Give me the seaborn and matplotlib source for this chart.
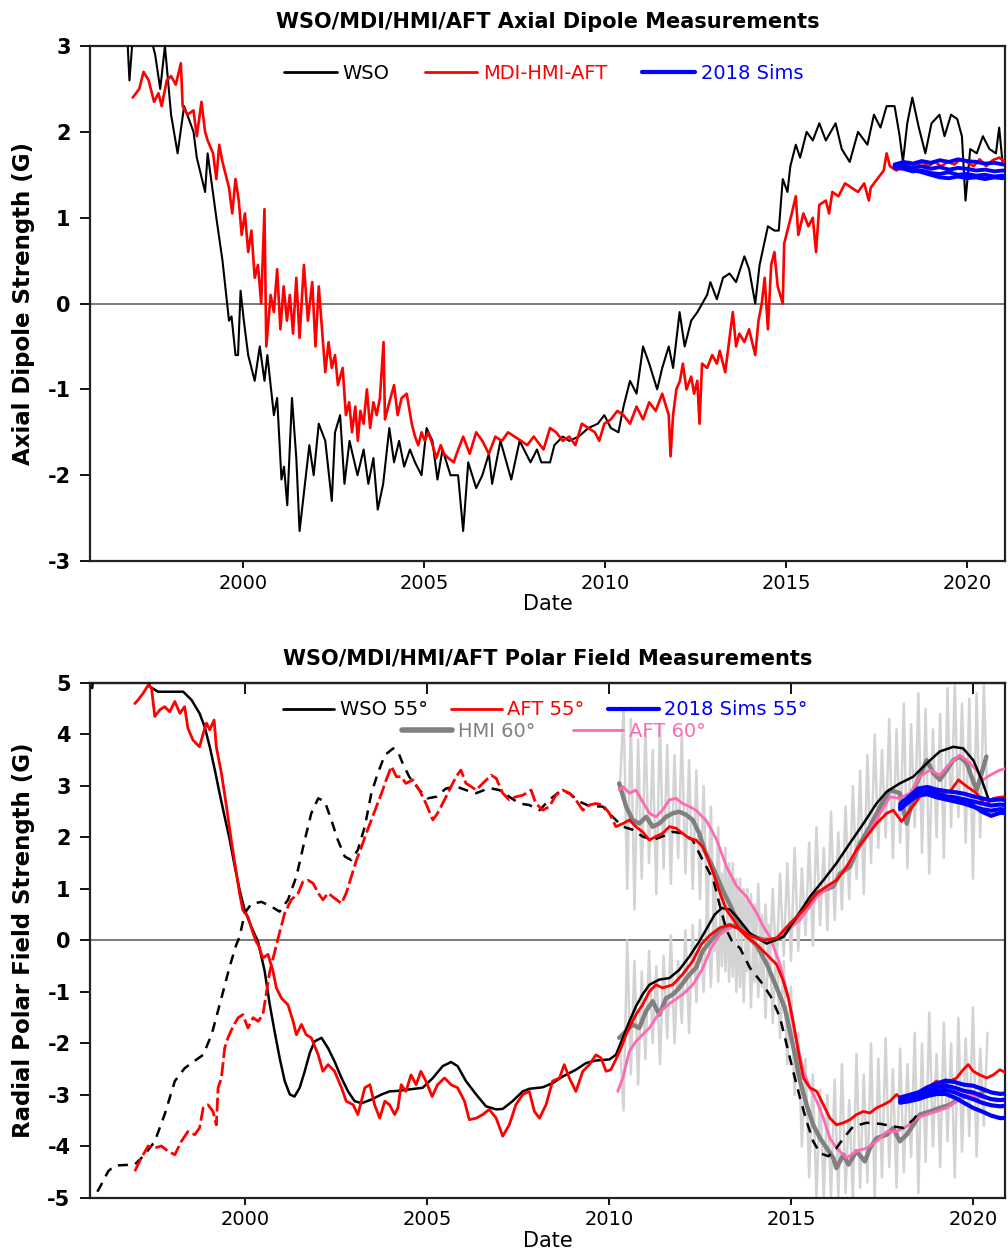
import pandas as pd
import seaborn as sns
import matplotlib.pyplot as plt
from matplotlib.lines import Line2D

# ---------------- top panel: axial dipole, (year, G) ----------------
wso_dipole = [
    (1996.51, 3.3), (1996.80, 3.1), (1996.86, 2.6), (1996.95, 3.1), (1997.39, 3.2), (1997.57, 2.9),
    (1997.71, 2.5), (1997.84, 3.0), (1998.01, 2.2), (1998.19, 1.75), (1998.37, 2.3), (1998.63, 2.0),
    (1998.72, 1.7), (1998.95, 1.3), (1999.02, 1.75), (1999.26, 1.0), (1999.43, 0.5), (1999.56, 0.0),
    (1999.61, -0.2), (1999.68, -0.15), (1999.79, -0.6), (1999.86, -0.6), (1999.93, 0.15), (2000.02, -0.2),
    (2000.14, -0.6), (2000.32, -0.9), (2000.46, -0.5), (2000.59, -0.9), (2000.67, -0.6), (2000.85, -1.3),
    (2000.94, -1.1), (2001.06, -2.05), (2001.13, -1.9), (2001.22, -2.35), (2001.35, -1.1), (2001.47, -1.8),
    (2001.56, -2.65), (2001.83, -1.65), (2001.95, -2.0), (2002.09, -1.4), (2002.27, -1.6), (2002.45, -2.3),
    (2002.54, -1.5), (2002.68, -1.3), (2002.80, -2.1), (2002.94, -1.6), (2003.16, -2.0), (2003.33, -1.7),
    (2003.46, -2.1), (2003.60, -1.8), (2003.72, -2.4), (2003.87, -2.1), (2004.04, -1.45), (2004.17, -1.85),
    (2004.31, -1.6), (2004.45, -1.9), (2004.61, -1.7), (2004.75, -1.85), (2004.93, -2.0), (2005.07, -1.45),
    (2005.23, -1.6), (2005.37, -2.05), (2005.51, -1.7), (2005.73, -2.0), (2005.94, -2.0), (2006.08, -2.65),
    (2006.22, -1.85), (2006.44, -2.15), (2006.61, -2.0), (2006.79, -1.75), (2006.88, -2.1), (2007.11, -1.6),
    (2007.41, -2.05), (2007.64, -1.6), (2007.94, -1.85), (2008.12, -1.7), (2008.24, -1.85), (2008.48, -1.85),
    (2008.60, -1.65), (2008.83, -1.55), (2009.01, -1.6), (2009.27, -1.55), (2009.54, -1.45), (2009.80, -1.4),
    (2009.98, -1.3), (2010.16, -1.45), (2010.37, -1.5), (2010.51, -1.2), (2010.69, -0.9), (2010.87, -1.05),
    (2011.05, -0.5), (2011.22, -0.7), (2011.44, -1.0), (2011.58, -0.75), (2011.76, -0.5), (2011.88, -0.75),
    (2012.06, -0.1), (2012.20, -0.5), (2012.38, -0.2), (2012.55, -0.1), (2012.82, 0.1), (2012.91, 0.25),
    (2013.09, 0.05), (2013.26, 0.3), (2013.44, 0.35), (2013.62, 0.25), (2013.85, 0.55), (2013.98, 0.4),
    (2014.15, 0.0), (2014.27, 0.45), (2014.50, 0.9), (2014.68, 0.85), (2014.80, 0.85), (2014.91, 1.45),
    (2015.04, 1.3), (2015.12, 1.6), (2015.27, 1.85), (2015.39, 1.7), (2015.57, 2.0), (2015.74, 1.9),
    (2015.92, 2.1), (2016.10, 1.9), (2016.37, 2.1), (2016.54, 1.8), (2016.76, 1.65), (2016.99, 2.0),
    (2017.25, 1.85), (2017.43, 2.2), (2017.61, 2.05), (2017.78, 2.3), (2018.00, 2.3), (2018.14, 1.95),
    (2018.23, 1.65), (2018.35, 2.1), (2018.49, 2.4), (2018.67, 2.05), (2018.85, 1.75), (2019.02, 2.1),
    (2019.24, 2.2), (2019.38, 1.95), (2019.56, 2.2), (2019.73, 2.15), (2019.86, 1.95), (2019.96, 1.2),
    (2020.09, 1.8), (2020.27, 1.75), (2020.44, 1.95), (2020.62, 1.8), (2020.80, 1.75), (2020.89, 2.05),
    (2020.98, 1.65),
]

aft_dipole = [
    (1996.95, 2.4), (1997.13, 2.5), (1997.25, 2.7), (1997.39, 2.6), (1997.54, 2.35), (1997.66, 2.45),
    (1997.75, 2.3), (1997.89, 2.6), (1998.01, 2.65), (1998.14, 2.55), (1998.28, 2.8), (1998.33, 2.3),
    (1998.46, 2.2), (1998.63, 2.25), (1998.72, 1.95), (1998.85, 2.35), (1998.95, 2.0), (1999.02, 1.9),
    (1999.17, 1.75), (1999.26, 1.45), (1999.34, 1.85), (1999.43, 1.65), (1999.52, 1.5), (1999.61, 1.35),
    (1999.70, 1.05), (1999.79, 1.45), (1999.88, 1.2), (1999.96, 0.8), (2000.05, 1.05), (2000.14, 0.6),
    (2000.23, 0.85), (2000.32, 0.3), (2000.41, 0.45), (2000.50, 0.0), (2000.59, 1.1), (2000.64, -0.5),
    (2000.76, 0.1), (2000.85, -0.1), (2000.94, 0.4), (2001.03, -0.3), (2001.12, 0.2), (2001.21, -0.2),
    (2001.29, 0.1), (2001.38, -0.35), (2001.47, 0.3), (2001.56, -0.4), (2001.68, 0.45), (2001.79, -0.2),
    (2001.91, 0.25), (2002.00, -0.5), (2002.09, 0.2), (2002.18, -0.3), (2002.27, -0.8), (2002.36, -0.45),
    (2002.45, -0.75), (2002.54, -0.6), (2002.62, -0.95), (2002.75, -0.75), (2002.84, -1.3), (2002.93, -1.15),
    (2003.01, -1.5), (2003.10, -1.2), (2003.17, -1.6), (2003.24, -1.25), (2003.33, -1.4), (2003.42, -1.0),
    (2003.51, -1.45), (2003.60, -1.15), (2003.69, -1.3), (2003.78, -1.1), (2003.88, -0.45), (2003.92, -1.35),
    (2004.04, -1.15), (2004.17, -0.95), (2004.27, -1.3), (2004.38, -1.1), (2004.52, -1.05), (2004.66, -1.4),
    (2004.75, -1.55), (2004.84, -1.65), (2004.93, -1.5), (2005.02, -1.6), (2005.11, -1.5), (2005.20, -1.6),
    (2005.34, -1.8), (2005.46, -1.65), (2005.55, -1.75), (2005.67, -1.8), (2005.82, -1.85), (2005.90, -1.75),
    (2006.08, -1.55), (2006.26, -1.75), (2006.44, -1.5), (2006.61, -1.6), (2006.79, -1.75), (2006.97, -1.55),
    (2007.15, -1.6), (2007.32, -1.5), (2007.50, -1.55), (2007.68, -1.6), (2007.85, -1.65), (2008.03, -1.55),
    (2008.30, -1.7), (2008.48, -1.45), (2008.65, -1.5), (2008.83, -1.6), (2009.01, -1.55), (2009.18, -1.65),
    (2009.36, -1.4), (2009.54, -1.45), (2009.72, -1.5), (2009.84, -1.6), (2009.98, -1.4), (2010.16, -1.35),
    (2010.34, -1.25), (2010.51, -1.3), (2010.69, -1.4), (2010.87, -1.2), (2011.05, -1.35), (2011.22, -1.15),
    (2011.40, -1.25), (2011.58, -1.05), (2011.76, -1.3), (2011.81, -1.78), (2011.88, -1.3), (2011.97, -1.0),
    (2012.07, -0.9), (2012.15, -0.7), (2012.25, -1.0), (2012.38, -0.85), (2012.46, -1.05), (2012.55, -0.9),
    (2012.61, -1.4), (2012.68, -0.7), (2012.82, -0.75), (2012.96, -0.6), (2013.09, -0.7), (2013.17, -0.55),
    (2013.32, -0.8), (2013.44, -0.4), (2013.53, -0.1), (2013.62, -0.5), (2013.71, -0.35), (2013.85, -0.45),
    (2013.98, -0.3), (2014.15, -0.6), (2014.24, -0.2), (2014.33, 0.0), (2014.41, 0.3), (2014.50, -0.3),
    (2014.59, 0.45), (2014.68, 0.6), (2014.77, 0.2), (2014.91, 0.0), (2014.95, 0.7), (2015.04, 0.85),
    (2015.16, 1.05), (2015.27, 1.25), (2015.34, 0.8), (2015.48, 1.05), (2015.62, 0.9), (2015.74, 1.0),
    (2015.83, 0.6), (2015.92, 1.15), (2016.10, 1.2), (2016.19, 1.05), (2016.28, 1.3), (2016.45, 1.25),
    (2016.63, 1.4), (2016.81, 1.35), (2016.99, 1.3), (2017.16, 1.4), (2017.29, 1.2), (2017.34, 1.35),
    (2017.52, 1.45), (2017.70, 1.55), (2017.78, 1.75), (2017.87, 1.6), (2018.05, 1.55), (2018.23, 1.6),
    (2018.40, 1.65), (2018.58, 1.6), (2018.76, 1.65), (2018.94, 1.6), (2019.11, 1.65), (2019.29, 1.6),
    (2019.47, 1.65), (2019.65, 1.62), (2019.82, 1.68), (2020.00, 1.65), (2020.18, 1.6), (2020.35, 1.68),
    (2020.53, 1.6), (2020.71, 1.67), (2020.89, 1.7), (2021.06, 1.65),
]

sim_years = [2018.0, 2018.25, 2018.5, 2018.75, 2019.0, 2019.25, 2019.5, 2019.75, 2020.0, 2020.25, 2020.5, 2020.75, 2021.0]
sim_dipole = [
    [1.62, 1.65, 1.63, 1.66, 1.64, 1.67, 1.65, 1.68, 1.66, 1.65, 1.63, 1.64, 1.62],
    [1.60, 1.61, 1.58, 1.60, 1.57, 1.59, 1.56, 1.58, 1.57, 1.55, 1.56, 1.54, 1.55],
    [1.58, 1.57, 1.54, 1.55, 1.52, 1.51, 1.53, 1.50, 1.51, 1.49, 1.50, 1.48, 1.49],
    [1.61, 1.59, 1.56, 1.53, 1.50, 1.47, 1.46, 1.48, 1.46, 1.47, 1.45, 1.47, 1.46],
]

# ---------------- bottom panel: polar fields, (year, G) ----------------
wso55_north = [
    (1995.80, 4.90), (1995.85, 5.30), (1997.30, 5.30), (1997.38, 4.93), (1997.61, 4.83), (1998.30, 4.83),
    (1998.53, 4.67), (1998.75, 4.41), (1998.89, 4.15), (1999.03, 3.76), (1999.17, 3.31), (1999.30, 2.86),
    (1999.44, 2.40), (1999.58, 1.95), (1999.72, 1.43), (1999.85, 0.98), (1999.99, 0.59), (2000.17, 0.27),
    (2000.36, -0.03), (2000.54, -0.60), (2000.68, -1.25), (2000.81, -1.76), (2000.95, -2.28), (2001.09, -2.73),
    (2001.23, -2.99), (2001.36, -3.03), (2001.50, -2.86), (2001.64, -2.54), (2001.78, -2.18), (2001.91, -1.96),
    (2002.10, -1.89), (2002.28, -2.09), (2002.46, -2.35), (2002.65, -2.67), (2002.83, -2.93), (2003.01, -3.12),
    (2003.20, -3.16), (2003.47, -3.09), (2003.75, -2.99), (2003.97, -2.93), (2004.20, -2.92), (2004.42, -2.90),
    (2004.88, -2.86), (2005.16, -2.67), (2005.43, -2.44), (2005.66, -2.36), (2005.84, -2.44), (2006.07, -2.73),
    (2006.35, -2.99), (2006.62, -3.22), (2006.90, -3.28), (2007.08, -3.27), (2007.35, -3.12), (2007.63, -2.93),
    (2007.81, -2.88), (2008.18, -2.85), (2008.45, -2.77), (2008.73, -2.64), (2009.09, -2.51), (2009.37, -2.38),
    (2009.64, -2.33), (2010.01, -2.31), (2010.19, -2.22), (2010.38, -1.89), (2010.56, -1.57), (2010.74, -1.28),
    (2010.92, -1.05), (2011.11, -0.86), (2011.38, -0.76), (2011.66, -0.73), (2011.93, -0.57), (2012.21, -0.31),
    (2012.48, -0.02), (2012.70, 0.25), (2012.90, 0.50), (2013.10, 0.63), (2013.32, 0.60), (2013.51, 0.46),
    (2013.87, 0.14), (2014.33, -0.06), (2014.79, 0.07), (2015.16, 0.46), (2015.52, 0.85), (2015.89, 1.17),
    (2016.25, 1.50), (2016.62, 1.89), (2016.99, 2.27), (2017.35, 2.66), (2017.63, 2.89), (2017.99, 3.05),
    (2018.36, 3.18), (2018.73, 3.44), (2019.09, 3.67), (2019.46, 3.76), (2019.73, 3.73), (2020.01, 3.50),
    (2020.24, 3.12), (2020.42, 2.76),
]

wso55_south = [
    (1995.80, -5.20), (1995.87, -4.97), (1996.05, -4.74), (1996.24, -4.48), (1996.42, -4.37), (1996.97, -4.35),
    (1997.24, -4.16), (1997.52, -3.90), (1997.79, -3.38), (1998.07, -2.73), (1998.34, -2.48), (1998.57, -2.36),
    (1998.85, -2.22), (1999.08, -1.83), (1999.35, -1.12), (1999.58, -0.50), (1999.76, -0.08), (1999.85, 0.07),
    (1999.99, 0.53), (2000.17, 0.71), (2000.45, 0.75), (2000.72, 0.66), (2000.95, 0.56), (2001.18, 0.79),
    (2001.41, 1.24), (2001.64, 1.95), (2001.82, 2.47), (2002.01, 2.76), (2002.19, 2.70), (2002.37, 2.34),
    (2002.55, 1.95), (2002.74, 1.63), (2002.92, 1.56), (2003.10, 1.76), (2003.29, 2.21), (2003.47, 2.86),
    (2003.65, 3.25), (2003.84, 3.60), (2004.07, 3.73), (2004.20, 3.67), (2004.33, 3.44), (2004.51, 3.18),
    (2004.79, 2.92), (2005.02, 2.76), (2005.25, 2.79), (2005.52, 2.95), (2005.80, 2.99), (2006.07, 2.92),
    (2006.35, 2.86), (2006.71, 2.96), (2006.99, 2.92), (2007.26, 2.79), (2007.54, 2.66), (2007.81, 2.63),
    (2008.09, 2.53), (2008.36, 2.73), (2008.64, 2.89), (2008.91, 2.86), (2009.18, 2.70), (2009.46, 2.61),
    (2009.83, 2.60), (2010.10, 2.40), (2010.38, 2.21), (2010.65, 2.15), (2010.92, 2.02), (2011.20, 1.95),
    (2011.47, 2.02), (2011.75, 2.11), (2012.02, 2.08), (2012.30, 1.95), (2012.48, 1.69), (2012.66, 1.45),
    (2012.87, 1.17), (2013.05, 0.66), (2013.23, 0.20), (2013.37, 0.00), (2013.60, -0.15), (2013.87, -0.53),
    (2014.24, -0.86), (2014.47, -1.12), (2014.70, -1.50), (2014.88, -2.02), (2015.06, -2.54), (2015.25, -3.06),
    (2015.43, -3.51), (2015.61, -3.90), (2015.80, -4.13), (2016.03, -4.19), (2016.25, -4.03), (2016.44, -3.84),
    (2016.71, -3.61), (2017.08, -3.54), (2017.45, -3.56), (2017.81, -3.61), (2018.09, -3.64), (2018.36, -3.48),
    (2018.54, -3.32),
]

aft55_north = [
    (1996.97, 4.60), (1997.06, 4.67), (1997.20, 4.80), (1997.34, 4.96), (1997.43, 4.90), (1997.52, 4.35),
    (1997.66, 4.48), (1997.79, 4.54), (1997.93, 4.44), (1998.07, 4.64), (1998.21, 4.41), (1998.34, 4.54),
    (1998.43, 4.12), (1998.57, 3.89), (1998.75, 3.76), (1998.85, 4.02), (1998.94, 4.22), (1999.03, 4.09),
    (1999.15, 4.28), (1999.21, 3.76), (1999.35, 3.25), (1999.49, 2.60), (1999.62, 1.95), (1999.72, 1.50),
    (1999.85, 0.91), (1999.94, 0.59), (2000.08, 0.46), (2000.22, 0.14), (2000.31, -0.03), (2000.36, -0.08),
    (2000.49, -0.34), (2000.63, -0.27), (2000.77, -0.60), (2000.86, -0.92), (2001.00, -1.12), (2001.18, -1.25),
    (2001.32, -1.57), (2001.41, -1.83), (2001.55, -1.63), (2001.68, -1.83), (2001.82, -1.89), (2002.01, -2.22),
    (2002.14, -2.54), (2002.28, -2.41), (2002.46, -2.54), (2002.65, -2.86), (2002.78, -3.12), (2002.97, -3.19),
    (2003.10, -3.38), (2003.29, -2.86), (2003.43, -2.80), (2003.56, -3.19), (2003.70, -3.45), (2003.84, -3.12),
    (2003.97, -3.19), (2004.11, -3.38), (2004.20, -3.25), (2004.29, -2.80), (2004.42, -2.93), (2004.56, -2.61),
    (2004.70, -2.80), (2004.83, -2.54), (2004.97, -2.73), (2005.14, -3.03), (2005.29, -2.80), (2005.48, -2.67),
    (2005.66, -2.80), (2005.84, -2.86), (2006.03, -3.12), (2006.16, -3.48), (2006.35, -3.45), (2006.53, -3.38),
    (2006.71, -3.28), (2006.90, -3.45), (2007.08, -3.80), (2007.26, -3.58), (2007.44, -3.19), (2007.63, -2.99),
    (2007.81, -2.93), (2007.95, -3.32), (2008.09, -3.45), (2008.27, -3.19), (2008.45, -2.73), (2008.64, -2.67),
    (2008.77, -2.41), (2008.91, -2.67), (2009.09, -2.93), (2009.28, -2.54), (2009.46, -2.41), (2009.64, -2.22),
    (2009.78, -2.28), (2009.92, -2.54), (2010.05, -2.51), (2010.19, -2.31), (2010.33, -2.09), (2010.47, -1.83),
    (2010.60, -1.63), (2010.74, -1.44), (2010.92, -1.25), (2011.11, -0.99), (2011.29, -0.86), (2011.47, -0.92),
    (2011.75, -0.86), (2012.02, -0.66), (2012.30, -0.40), (2012.53, -0.08), (2012.77, 0.10), (2013.05, 0.25),
    (2013.32, 0.30), (2013.60, 0.22), (2013.87, 0.10), (2014.24, 0.00), (2014.61, 0.05), (2014.97, 0.33),
    (2015.34, 0.59), (2015.71, 0.92), (2015.98, 1.05), (2016.25, 1.17), (2016.53, 1.43), (2016.80, 1.76),
    (2017.08, 2.02), (2017.35, 2.27), (2017.63, 2.47), (2017.81, 2.53), (2018.04, 2.31), (2018.27, 2.53),
    (2018.54, 2.79), (2018.82, 2.92), (2019.09, 2.86), (2019.37, 2.89), (2019.60, 3.12), (2019.83, 2.99),
    (2020.10, 2.86), (2020.33, 2.63), (2020.56, 2.76), (2020.83, 2.79), (2020.97, 2.73),
]

# south before 2010 has gaps (drawn dashed), afterwards continuous
aft55_south_early = [
    (1996.97, -4.48), (1997.15, -4.22), (1997.34, -3.99), (1997.52, -4.03), (1997.70, -3.99), (1997.88, -4.09),
    (1998.07, -4.16), (1998.25, -3.90), (1998.43, -3.71), (1998.62, -3.77), (1998.75, -3.64), (1998.85, -3.25),
    (1998.98, -3.19), (1999.12, -3.32), (1999.21, -3.58), (1999.26, -2.86), (1999.35, -2.67), (1999.44, -2.09),
    (1999.53, -1.89), (1999.67, -1.67), (1999.81, -1.50), (1999.94, -1.44), (2000.08, -1.70), (2000.22, -1.50),
    (2000.36, -1.57), (2000.49, -1.44), (2000.68, -0.60), (2000.91, 0.05), (2001.09, 0.53), (2001.27, 0.79),
    (2001.46, 0.92), (2001.59, 1.14), (2001.73, 1.17), (2001.87, 1.11), (2002.01, 0.92), (2002.14, 0.79),
    (2002.28, 0.92), (2002.46, 0.82), (2002.65, 0.72), (2002.78, 0.92), (2002.92, 1.24), (2003.06, 1.56),
    (2003.20, 1.82), (2003.33, 2.08), (2003.47, 2.34), (2003.61, 2.60), (2003.75, 2.86), (2003.88, 3.12),
    (2004.02, 3.38), (2004.16, 3.18), (2004.29, 3.18), (2004.42, 3.05), (2004.61, 3.12), (2004.79, 2.92),
    (2004.97, 2.66), (2005.16, 2.34), (2005.29, 2.47), (2005.48, 2.73), (2005.66, 2.99), (2005.80, 3.18),
    (2005.93, 3.31), (2006.07, 3.05), (2006.21, 2.99), (2006.35, 2.92), (2006.53, 3.05), (2006.76, 3.21),
    (2006.90, 3.15), (2007.08, 2.86), (2007.26, 2.73), (2007.44, 2.79), (2007.63, 2.82), (2007.86, 2.92),
    (2007.99, 2.66), (2008.18, 2.53), (2008.36, 2.60), (2008.54, 2.82), (2008.73, 2.92), (2008.91, 2.86),
    (2009.09, 2.73), (2009.28, 2.53), (2009.46, 2.63), (2009.64, 2.66), (2009.83, 2.63), (2010.01, 2.47),
    (2010.19, 2.21),
]

aft55_south_late = [
    (2010.19, 2.21), (2010.38, 2.27), (2010.56, 2.34), (2010.74, 2.21), (2010.92, 2.11), (2011.11, 1.95),
    (2011.29, 2.02), (2011.47, 2.08), (2011.66, 2.21), (2011.84, 2.18), (2012.02, 2.08), (2012.21, 1.98),
    (2012.39, 1.95), (2012.57, 1.82), (2012.66, 1.69), (2012.87, 1.30), (2013.05, 0.92), (2013.23, 0.59),
    (2013.42, 0.40), (2013.60, 0.20), (2013.78, 0.07), (2013.97, -0.03), (2014.06, -0.08), (2014.33, -0.27),
    (2014.61, -0.47), (2014.79, -0.79), (2014.93, -1.12), (2015.06, -1.57), (2015.20, -2.15), (2015.34, -2.67),
    (2015.52, -2.86), (2015.71, -2.93), (2015.89, -3.19), (2016.07, -3.45), (2016.25, -3.58), (2016.44, -3.54),
    (2016.62, -3.48), (2016.80, -3.38), (2016.99, -3.32), (2017.17, -3.35), (2017.35, -3.25), (2017.54, -3.19),
    (2017.72, -3.12), (2017.90, -2.99), (2018.09, -3.12), (2018.27, -3.06), (2018.45, -2.99), (2018.64, -2.93),
    (2018.82, -2.83), (2019.00, -2.73), (2019.18, -2.80), (2019.37, -2.73), (2019.55, -2.67), (2019.73, -2.51),
    (2019.87, -2.41), (2020.01, -2.54), (2020.19, -2.61), (2020.38, -2.67), (2020.56, -2.61), (2020.74, -2.51),
    (2020.92, -2.57),
]

hmi60_north = [
    (2010.28, -1.89), (2010.47, -1.76), (2010.65, -1.63), (2010.83, -1.70), (2011.02, -1.37), (2011.20, -1.18),
    (2011.38, -1.44), (2011.57, -1.12), (2011.75, -1.05), (2011.93, -0.92), (2012.21, -0.66), (2012.39, -0.53),
    (2012.57, -0.21), (2012.80, 0.00), (2013.05, 0.20), (2013.30, 0.30), (2013.60, 0.25), (2013.90, 0.10),
    (2014.20, 0.02), (2014.50, 0.00), (2014.80, 0.10), (2015.25, 0.53), (2015.71, 0.92), (2016.16, 1.05),
    (2016.35, 1.30), (2016.62, 1.43), (2016.90, 1.89), (2017.17, 2.21), (2017.45, 2.60), (2017.72, 2.92),
    (2017.99, 2.86), (2018.18, 2.27), (2018.45, 3.05), (2018.73, 3.50), (2018.91, 3.25), (2019.09, 3.12),
    (2019.28, 3.31), (2019.46, 3.50), (2019.64, 3.57), (2019.83, 3.44), (2019.96, 3.18), (2020.10, 2.92),
    (2020.24, 3.25), (2020.37, 3.57),
]

hmi60_south = [
    (2010.28, 3.05), (2010.47, 2.60), (2010.65, 2.34), (2010.83, 2.27), (2011.02, 2.40), (2011.20, 2.21),
    (2011.38, 2.27), (2011.57, 2.40), (2011.75, 2.47), (2011.93, 2.50), (2012.12, 2.44), (2012.30, 2.34),
    (2012.48, 2.08), (2012.66, 1.69), (2012.80, 1.50), (2012.96, 1.25), (2013.14, 0.95), (2013.32, 0.70),
    (2013.51, 0.40), (2013.78, 0.10), (2014.06, -0.10), (2014.33, -0.45), (2014.61, -0.92), (2014.83, -1.31),
    (2014.97, -1.76), (2015.11, -2.22), (2015.25, -2.73), (2015.43, -3.19), (2015.61, -3.58), (2015.80, -3.84),
    (2015.98, -4.03), (2016.16, -4.22), (2016.25, -4.42), (2016.44, -4.16), (2016.58, -4.35), (2016.80, -4.09),
    (2017.03, -4.29), (2017.17, -4.03), (2017.35, -3.84), (2017.63, -3.77), (2017.81, -3.64), (2017.99, -3.90),
    (2018.18, -3.77), (2018.36, -3.58), (2018.54, -3.38), (2018.82, -3.32), (2019.09, -3.25), (2019.37, -3.19),
    (2019.64, -3.06), (2019.92, -2.99), (2020.10, -3.06), (2020.28, -2.93),
]

aft60_north = [
    (2010.24, -2.93), (2010.38, -2.67), (2010.56, -2.15), (2010.74, -1.96), (2010.92, -1.83), (2011.11, -1.70),
    (2011.29, -1.50), (2011.47, -1.34), (2011.75, -1.18), (2012.02, -1.05), (2012.30, -0.86), (2012.48, -0.66),
    (2012.62, -0.47), (2012.80, -0.15), (2013.05, 0.12), (2013.40, 0.28), (2013.70, 0.20), (2014.00, 0.05),
    (2014.30, -0.02), (2014.60, 0.05), (2014.90, 0.20), (2015.25, 0.40), (2015.71, 0.85), (2016.16, 1.11),
    (2016.62, 1.53), (2017.08, 2.02), (2017.45, 2.47), (2017.72, 2.79), (2017.99, 2.76), (2018.27, 2.86),
    (2018.54, 3.18), (2018.82, 3.31), (2019.09, 3.21), (2019.37, 3.44), (2019.64, 3.60), (2019.83, 3.50),
    (2020.10, 3.31), (2020.28, 3.12), (2020.47, 3.21), (2020.74, 3.31), (2020.92, 3.34),
]

aft60_south = [
    (2010.28, 2.92), (2010.38, 2.99), (2010.56, 2.86), (2010.74, 2.92), (2010.92, 2.70), (2011.11, 2.47),
    (2011.29, 2.40), (2011.47, 2.53), (2011.66, 2.73), (2011.84, 2.76), (2012.02, 2.66), (2012.21, 2.60),
    (2012.39, 2.53), (2012.57, 2.40), (2012.66, 2.34), (2012.77, 2.21), (2012.96, 1.95), (2013.23, 1.43),
    (2013.51, 1.05), (2013.78, 0.85), (2014.06, 0.53), (2014.24, 0.27), (2014.42, 0.07), (2014.70, -0.47),
    (2014.93, -1.12), (2015.06, -1.63), (2015.20, -2.09), (2015.34, -2.54), (2015.52, -2.86), (2015.71, -3.12),
    (2015.89, -3.45), (2016.07, -3.84), (2016.25, -4.03), (2016.53, -4.22), (2016.80, -4.09), (2017.08, -4.03),
    (2017.35, -3.90), (2017.63, -3.71), (2017.90, -3.71), (2018.18, -3.61), (2018.45, -3.45), (2018.73, -3.38),
    (2019.00, -3.32), (2019.28, -3.25), (2019.55, -3.12), (2019.83, -2.99), (2020.10, -3.03), (2020.38, -3.06),
    (2020.65, -3.12), (2020.92, -3.06),
]

# raw (unsmoothed) HMI 60 deg polar field, light gray
hmi_raw_north = [
    (2010.3, -2.0), (2010.4, -3.3), (2010.5, 0.0), (2010.6, -2.6), (2010.7, -0.4), (2010.8, -2.8), (2010.9, -0.6),
    (2011.0, -2.3), (2011.1, -0.2), (2011.2, -2.0), (2011.3, -0.5), (2011.4, -2.4), (2011.5, -0.3), (2011.6, -1.9),
    (2011.7, 0.1), (2011.8, -2.0), (2011.9, -0.4), (2012.0, -1.6), (2012.1, 0.2), (2012.2, -1.8), (2012.3, 0.3),
    (2012.4, -1.2), (2012.5, 0.4), (2012.6, -1.0), (2012.7, 0.9), (2012.8, -0.9), (2012.9, 1.2), (2013.0, -0.8),
    (2013.1, 1.3), (2013.2, -0.6), (2013.3, 1.5), (2013.4, -0.7), (2013.5, 1.2), (2013.6, -0.9), (2013.7, 1.0),
    (2013.8, -0.6), (2013.9, 0.9), (2014.0, -0.8), (2014.1, 1.1), (2014.2, -0.9), (2014.3, 0.7), (2014.4, -0.7),
    (2014.5, 1.0), (2014.6, -0.6), (2014.7, 1.3), (2014.8, -0.3), (2014.9, 1.5), (2015.0, -0.4), (2015.1, 1.8),
    (2015.2, -0.2), (2015.3, 1.4), (2015.4, 0.1), (2015.5, 1.9), (2015.6, -0.1), (2015.7, 2.2), (2015.8, 0.3),
    (2015.9, 1.8), (2016.0, 0.2), (2016.1, 2.5), (2016.2, 0.4), (2016.3, 2.1), (2016.4, 0.6), (2016.5, 2.6),
    (2016.6, 0.8), (2016.7, 3.0), (2016.8, 1.2), (2016.9, 3.3), (2017.0, 0.9), (2017.1, 3.6), (2017.2, 1.5),
    (2017.3, 4.0), (2017.4, 1.8), (2017.5, 3.7), (2017.6, 2.0), (2017.7, 4.3), (2017.8, 1.6), (2017.9, 4.1),
    (2018.0, 1.9), (2018.1, 4.6), (2018.2, 1.4), (2018.3, 4.2), (2018.4, 2.2), (2018.5, 4.8), (2018.6, 1.7),
    (2018.7, 4.5), (2018.8, 1.3), (2018.9, 4.1), (2019.0, 2.0), (2019.1, 4.4), (2019.2, 1.6), (2019.3, 4.9),
    (2019.4, 2.2), (2019.5, 5.0), (2019.6, 2.4), (2019.7, 4.6), (2019.8, 1.9), (2019.9, 4.7), (2020.0, 1.2),
    (2020.1, 4.8), (2020.2, 2.0), (2020.3, 5.0), (2020.4, 2.5),
]

hmi_raw_south = [
    (2010.3, 3.0), (2010.4, 4.5), (2010.5, 1.0), (2010.6, 4.3), (2010.7, 0.6), (2010.8, 3.9), (2010.9, 1.2),
    (2011.0, 4.1), (2011.1, 1.5), (2011.2, 3.7), (2011.3, 0.9), (2011.4, 4.2), (2011.5, 1.4), (2011.6, 3.8),
    (2011.7, 1.1), (2011.8, 3.6), (2011.9, 1.6), (2012.0, 4.0), (2012.1, 1.3), (2012.2, 3.5), (2012.3, 1.0),
    (2012.4, 3.3), (2012.5, 0.8), (2012.6, 3.0), (2012.7, 0.4), (2012.8, 2.6), (2012.9, -0.2), (2013.0, 2.2),
    (2013.1, -0.5), (2013.2, 1.8), (2013.3, -0.8), (2013.4, 1.5), (2013.5, -1.0), (2013.6, 1.2), (2013.7, -1.2),
    (2013.8, 1.0), (2013.9, -1.3), (2014.0, 0.7), (2014.1, -1.1), (2014.2, 0.5), (2014.3, -1.5), (2014.4, 0.3),
    (2014.5, -1.6), (2014.6, 0.0), (2014.7, -1.9), (2014.8, -0.4), (2014.9, -2.4), (2015.0, -0.9), (2015.1, -3.0),
    (2015.2, -1.8), (2015.3, -4.0), (2015.4, -2.3), (2015.5, -4.6), (2015.6, -2.6), (2015.7, -5.0), (2015.8, -2.9),
    (2015.9, -5.0), (2016.0, -3.0), (2016.1, -5.0), (2016.2, -2.7), (2016.3, -5.0), (2016.4, -2.4), (2016.5, -4.9),
    (2016.6, -3.1), (2016.7, -5.0), (2016.8, -2.2), (2016.9, -4.8), (2017.0, -2.6), (2017.1, -4.7), (2017.2, -2.0),
    (2017.3, -5.0), (2017.4, -2.3), (2017.5, -4.6), (2017.6, -1.9), (2017.7, -4.4), (2017.8, -2.5), (2017.9, -4.8),
    (2018.0, -2.1), (2018.1, -4.5), (2018.2, -2.4), (2018.3, -4.2), (2018.4, -1.8), (2018.5, -4.9), (2018.6, -2.0),
    (2018.7, -4.3), (2018.8, -1.4), (2018.9, -4.0), (2019.0, -2.2), (2019.1, -4.4), (2019.2, -1.6), (2019.3, -3.9),
    (2019.4, -2.0), (2019.5, -4.6), (2019.6, -1.5), (2019.7, -4.1), (2019.8, -1.9), (2019.9, -3.8), (2020.0, -1.3),
    (2020.1, -4.2), (2020.2, -2.1), (2020.3, -3.6), (2020.4, -1.8),
]

sim55_north = [
    [2.65, 2.80, 2.95, 2.98, 2.93, 2.90, 2.88, 2.85, 2.80, 2.76, 2.72, 2.74, 2.72],
    [2.60, 2.75, 2.88, 2.90, 2.85, 2.80, 2.78, 2.74, 2.70, 2.66, 2.62, 2.64, 2.62],
    [2.55, 2.70, 2.82, 2.84, 2.78, 2.74, 2.70, 2.66, 2.60, 2.55, 2.52, 2.55, 2.53],
    [2.58, 2.72, 2.85, 2.87, 2.80, 2.76, 2.72, 2.68, 2.62, 2.50, 2.42, 2.48, 2.47],
]
sim55_south = [
    [-3.05, -3.00, -2.95, -2.85, -2.78, -2.72, -2.75, -2.80, -2.82, -2.88, -2.95, -2.98, -2.96],
    [-3.10, -3.05, -3.00, -2.92, -2.85, -2.82, -2.86, -2.92, -2.95, -3.02, -3.08, -3.10, -3.08],
    [-3.12, -3.08, -3.05, -2.98, -2.92, -2.90, -2.95, -3.02, -3.08, -3.15, -3.20, -3.22, -3.20],
    [-3.15, -3.12, -3.08, -3.02, -2.98, -2.98, -3.05, -3.15, -3.25, -3.32, -3.40, -3.45, -3.44],
]

PINK = '#ff69b4'
LIGHT = '#d3d3d3'
DARK = '#808080'


def to_df(pairs):
    return pd.DataFrame(pairs, columns=['year', 'value'])


def sims_df(runs):
    rows = []
    for i, run in enumerate(runs):
        for yr, v in zip(sim_years, run):
            rows.append((i, yr, v))
    return pd.DataFrame(rows, columns=['sim', 'year', 'value'])


def draw(ax, pairs, color, lw, ls='-', z=2):
    sns.lineplot(data=to_df(pairs), x='year', y='value', ax=ax, color=color, lw=lw,
                 linestyle=ls, estimator=None, sort=False, zorder=z)


def draw_sims(ax, runs, lw=3.0, z=7):
    sns.lineplot(data=sims_df(runs), x='year', y='value', units='sim', ax=ax, color='blue',
                 lw=lw, estimator=None, sort=False, zorder=z)


sns.set_style('ticks')
plt.rcParams['font.family'] = ['DejaVu Sans']
plt.rcParams['axes.unicode_minus'] = False
for key in ('text.color', 'axes.labelcolor', 'xtick.color', 'ytick.color'):
    plt.rcParams[key] = 'black'

fig = plt.figure(figsize=(10.08, 12.58), dpi=100)
ax1 = fig.add_axes([0.0893, 0.554, 0.9077, 0.4094])
ax2 = fig.add_axes([0.0893, 0.0477, 0.9077, 0.4094])

# top panel
draw(ax1, wso_dipole, 'black', 1.5, z=3)
draw(ax1, aft_dipole, 'red', 1.9, z=4)
draw_sims(ax1, sim_dipole, lw=2.8, z=5)

# bottom panel
draw(ax2, hmi_raw_north, LIGHT, 1.8, z=2)
draw(ax2, hmi_raw_south, LIGHT, 1.8, z=2)
draw(ax2, hmi60_north, DARK, 3.2, z=3)
draw(ax2, hmi60_south, DARK, 3.2, z=3)
draw(ax2, aft60_north, PINK, 2.0, z=4)
draw(ax2, aft60_south, PINK, 2.0, z=4)
draw(ax2, wso55_south, 'black', 1.8, ls=(0, (4, 3)), z=5)
draw(ax2, wso55_north, 'black', 1.8, z=5)
draw(ax2, aft55_south_early, 'red', 2.0, ls=(0, (5, 1.5)), z=6)
draw(ax2, aft55_south_late, 'red', 2.0, z=6)
draw(ax2, aft55_north, 'red', 2.0, z=6)
draw_sims(ax2, sim55_north)
draw_sims(ax2, sim55_south)

ax1.set_xlim(1995.77, 2021.05)
ax1.set_ylim(-3, 3)
ax1.set_yticks(range(-3, 4))
ax2.set_xlim(1995.74, 2020.88)
ax2.set_ylim(-5, 5)
ax2.set_yticks(range(-5, 6))

for ax in (ax1, ax2):
    ax.axhline(0, color='#707070', lw=1.3, zorder=1)
    ax.set_xticks([2000, 2005, 2010, 2015, 2020])
    ax.tick_params(axis='y', direction='out', length=7, width=1.3, labelsize=15, pad=7)
    ax.tick_params(axis='x', direction='out', length=5, width=1.3, labelsize=14, pad=4)
    for lab in ax.get_yticklabels():
        lab.set_fontweight('bold')
    for s in ax.spines.values():
        s.set_linewidth(1.6)
        s.set_color('#222222')
    ax.set_xlabel('Date', fontsize=15, labelpad=1)

ax1.set_ylabel('Axial Dipole Strength (G)', fontsize=16.5, fontweight='bold', labelpad=9)
ax2.set_ylabel('Radial Polar Field Strength (G)', fontsize=16.5, fontweight='bold', labelpad=9)
ax1.set_title('WSO/MDI/HMI/AFT Axial Dipole Measurements', fontsize=15, fontweight='bold', pad=13)
ax2.set_title('WSO/MDI/HMI/AFT Polar Field Measurements', fontsize=15, fontweight='bold', pad=13)

# inward ticks along the top edge of the lower panel
top = ax2.secondary_xaxis('top')
top.set_xticks([2000, 2005, 2010, 2015, 2020])
top.tick_params(direction='in', length=8, width=1.3, labeltop=False)
top.spines['top'].set_linewidth(1.6)

# legends, text coloured like the lines
h1 = [Line2D([], [], color='black', lw=2), Line2D([], [], color='red', lw=2),
      Line2D([], [], color='blue', lw=3)]
leg = ax1.legend(h1, ['WSO', 'MDI-HMI-AFT', '2018 Sims'], loc='upper center',
                 bbox_to_anchor=(0.496, 1.0), ncol=3, frameon=False, fontsize=14,
                 handlelength=2.7, handletextpad=0.3, columnspacing=1.8)
for t, c in zip(leg.get_texts(), ['black', 'red', 'blue']):
    t.set_color(c)

h2 = [Line2D([], [], color='black', lw=2), Line2D([], [], color='red', lw=2),
      Line2D([], [], color='blue', lw=3)]
leg2 = ax2.legend(h2, ['WSO 55°', 'AFT 55°', '2018 Sims 55°'], loc='upper center',
                  bbox_to_anchor=(0.498, 1.0), ncol=3, frameon=False, fontsize=14,
                  handlelength=2.6, handletextpad=0.3, columnspacing=1.2)
for t, c in zip(leg2.get_texts(), ['black', 'red', 'blue']):
    t.set_color(c)
ax2.add_artist(leg2)

h3 = [Line2D([], [], color=DARK, lw=4), Line2D([], [], color=PINK, lw=2)]
leg3 = ax2.legend(h3, ['HMI 60°', 'AFT 60°'], loc='upper center',
                  bbox_to_anchor=(0.507, 0.94), ncol=2, frameon=False, fontsize=14,
                  handlelength=2.6, handletextpad=0.3, columnspacing=1.9, borderaxespad=0)
for t, c in zip(leg3.get_texts(), [DARK, PINK]):
    t.set_color(c)

fig.savefig('out.png', dpi=100)
